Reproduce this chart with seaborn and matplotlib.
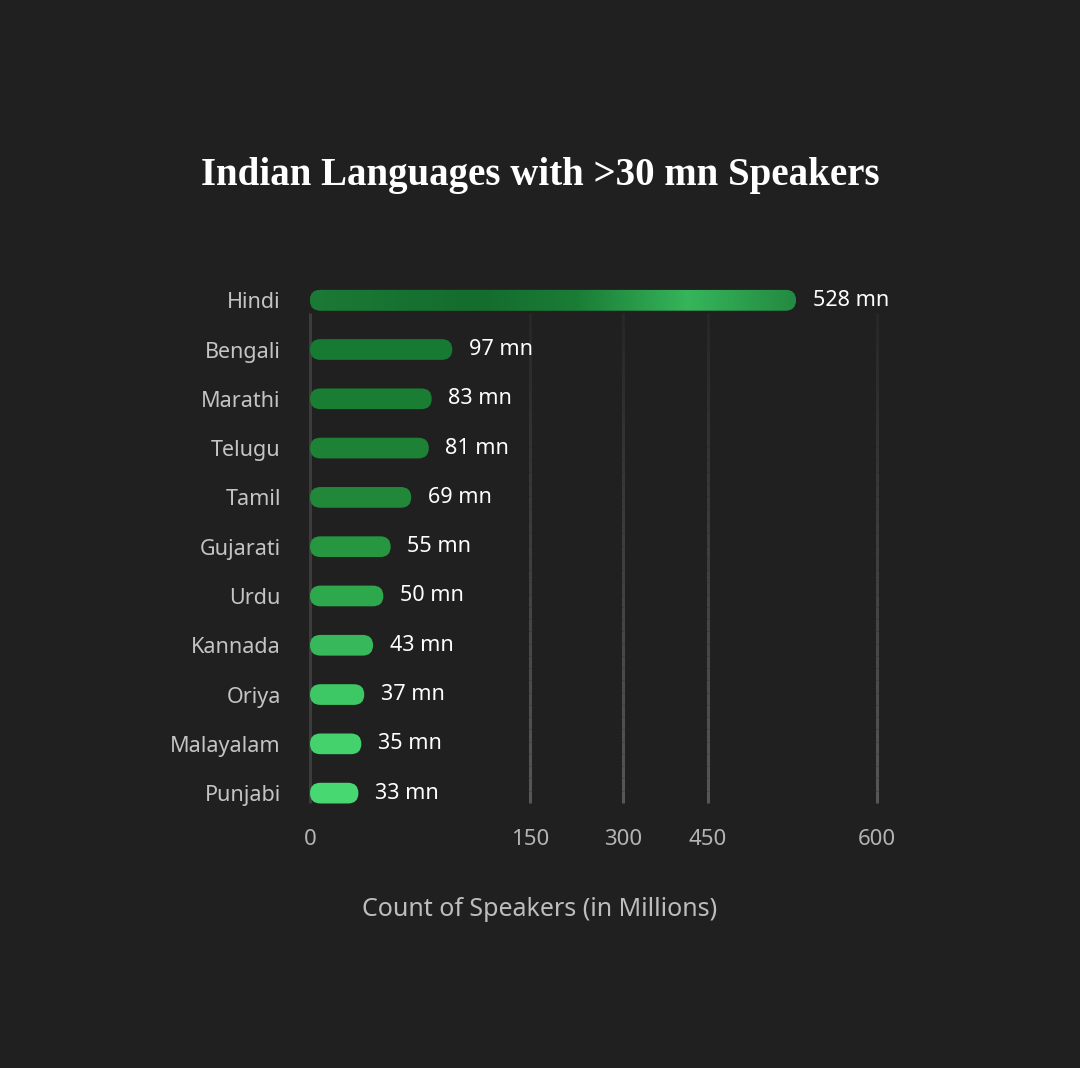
import numpy as np
import pandas as pd
import matplotlib
matplotlib.use("Agg")
import matplotlib.pyplot as plt
import seaborn as sns
from matplotlib.patches import FancyBboxPatch
from matplotlib.collections import LineCollection
from matplotlib.colors import LinearSegmentedColormap, to_rgb

# 数据
languages = ["Hindi", "Bengali", "Marathi", "Telugu", "Tamil", "Gujarati",
             "Urdu", "Kannada", "Oriya", "Malayalam", "Punjabi"]
speakers = [528, 97, 83, 81, 69, 55, 50, 43, 37, 35, 33]
bar_colors = ["#1a7a34", "#177a32", "#1a7d34", "#1d8236", "#21883a", "#269640",
              "#2ea84d", "#37b85a", "#3ec765", "#44d26c", "#47d872"]
tick_values = [0, 150, 300, 450, 600]
# 刻度在轴上的相对位置（参考图中刻度间距不均匀）
tick_fracs = [0.0, 0.388, 0.552, 0.702, 1.0]

BG = "#202020"

sns.set_theme(style="dark")
plt.rcParams["font.family"] = ["Noto Sans", "DejaVu Sans"]

df = pd.DataFrame({"language": languages, "speakers": speakers})

fig = plt.figure(figsize=(10.8, 10.68), dpi=100, facecolor=BG)
ax = fig.add_axes([310 / 1080, 1 - 803 / 1068, 567 / 1080, 523 / 1068])
ax.set_facecolor(BG)

sns.barplot(data=df, x="speakers", y="language", orient="h", width=0.42,
            color=bar_colors[0], ax=ax, zorder=3)

# 非线性坐标轴
fv = np.array(tick_values, dtype=float)
ff = np.array(tick_fracs) * 600


def fwd(x):
    return np.interp(x, fv, ff)


def inv(x):
    return np.interp(x, ff, fv)


ax.set_xscale("function", functions=(fwd, inv))
ax.set_xlim(0, 600)
ax.set_ylim(10.2, -0.41)
ax.set_xticks(tick_values)
ax.set_xticklabels([str(t) for t in tick_values])
ax.tick_params(axis="x", length=0, pad=19, labelsize=16, labelcolor="#b4b4b4")
ax.tick_params(axis="y", length=0, pad=21, labelsize=15.5, labelcolor="#c4c4c4")
ax.grid(False)
for s in ax.spines.values():
    s.set_visible(False)
ax.set_ylabel("")
ax.set_xlabel("Count of Speakers (in Millions)", fontsize=18, color="#bdbdbd")
ax.xaxis.set_label_coords((540 - 310) / 567, -(910 - 803) / 523)
ax.xaxis.label.set_va("center")

# 渐变网格线
top_c = np.array(to_rgb("#272727"))
bot_c = np.array(to_rgb("#575757"))
n = 40
ys = np.linspace(0.25, 10.2, n + 1)
for t in tick_values[1:]:
    segs = [[(t, ys[i]), (t, ys[i + 1])] for i in range(n)]
    cols = [top_c + (bot_c - top_c) * (i / n) for i in range(n)]
    lc = LineCollection(segs, colors=cols, linewidths=2.2, zorder=1)
    lc.set_clip_on(False)
    ax.add_collection(lc)
ax.vlines(0, 0.25, 10.2, colors="#3c3c3c", linewidth=2.2, zorder=1, clip_on=False)

ax.bar_label(ax.containers[0], labels=[f"{v} mn" for v in speakers],
             padding=12, fontsize=15.5, color="white")
for txt in ax.texts:
    txt.set_y(txt.get_position()[1] + 0.04)

fig.suptitle("Indian Languages with >30 mn Speakers", y=1 - 176 / 1068, va="center",
             fontsize=28, fontweight="bold", color="white",
             family=["Liberation Serif", "DejaVu Serif"])

# 圆角条形：在像素坐标的覆盖层中重画
fig.canvas.draw()
over = fig.add_axes([0, 0, 1, 1], zorder=5)
over.set_xlim(0, 1080)
over.set_ylim(0, 1068)
over.axis("off")
over.patch.set_alpha(0)

hindi_cmap = LinearSegmentedColormap.from_list(
    "hindi", [(0.0, "#1b7a35"), (0.35, "#146c2d"), (0.55, "#1a7d36"),
              (0.78, "#36b55b"), (1.0, "#238a41")])

for i, patch in enumerate(ax.patches):
    bb = patch.get_window_extent()
    patch.set_visible(False)
    h = bb.height
    box = FancyBboxPatch((bb.x0, bb.y0), bb.width, h,
                         boxstyle=f"round,pad=0,rounding_size={h / 2}",
                         facecolor=bar_colors[i], edgecolor="none")
    over.add_patch(box)
    if i == 0:
        grad = np.linspace(0, 1, 256).reshape(1, -1)
        im = over.imshow(grad, cmap=hindi_cmap, aspect="auto",
                         extent=(bb.x0, bb.x1, bb.y0, bb.y1), zorder=6)
        im.set_clip_path(box)
over.set_xlim(0, 1080)
over.set_ylim(0, 1068)

fig.savefig("out.png", dpi=100, facecolor=BG)
